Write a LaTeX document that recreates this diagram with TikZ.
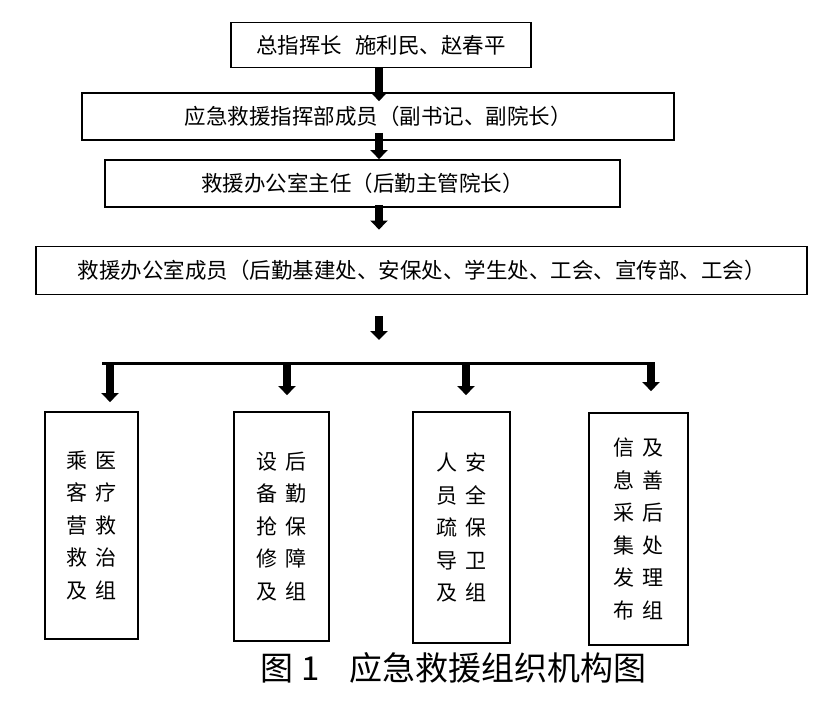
\documentclass[tikz,border=0pt]{standalone}
\usepackage{fontspec}
\setmainfont{Noto Sans CJK SC}
\usepackage{tikz}
\usetikzlibrary{arrows.meta,positioning}

\newcommand{\duo}[2]{#1\hspace{8pt}#2}

\begin{document}
\begin{tikzpicture}[x=1pt,y=-1pt,
    post/.style={draw=black, line width=1.8pt, inner sep=0pt,
      font=\fontsize{21.5}{26}\selectfont},
    team/.style={draw=black, line width=1.8pt, inner sep=0pt, align=center,
      font=\fontsize{21}{32.5}\selectfont},
    arr/.style={-{Triangle[width=17pt,length=9pt]}, line width=7.5pt}
  ]
    \useasboundingbox (0,0) rectangle (824,704);

    \node[post, minimum width=300pt, minimum height=45pt] (chief) at (381,45)
      {总指挥长\hspace{0.6em}施利民、赵春平};
    \node[post, minimum width=592pt, minimum height=47pt] (command) at (378,116.5)
      {应急救援指挥部成员（副书记、副院长）};
    \node[post, minimum width=515pt, minimum height=47pt] (office) at (362.5,183.5)
      {救援办公室主任（后勤主管院长）};
    \node[post, minimum width=771pt, minimum height=48pt] (staff) at (421.5,270.5)
      {救援办公室成员（后勤基建处、安保处、学生处、工会、宣传部、工会）\hspace{10pt}};

    \node[team, minimum width=93pt, minimum height=227pt] (grpA) at (91.5,525.5)
      {\duo{乘}{医}\\\duo{客}{疗}\\\duo{营}{救}\\\duo{救}{治}\\\duo{及}{组}};
    \node[team, minimum width=95pt, minimum height=229pt] (grpB) at (281.5,526.5)
      {\duo{设}{后}\\\duo{备}{勤}\\\duo{抢}{保}\\\duo{修}{障}\\\duo{及}{组}};
    \node[team, minimum width=97pt, minimum height=231pt] (grpC) at (461.5,527.5)
      {\duo{人}{安}\\\duo{员}{全}\\\duo{疏}{保}\\\duo{导}{卫}\\\duo{及}{组}};
    \node[team, minimum width=99pt, minimum height=232pt] (grpD) at (638.5,529)
      {\duo{信}{及}\\\duo{息}{善}\\\duo{采}{后}\\\duo{集}{处}\\\duo{发}{理}\\\duo{布}{组}};

    \node[font=\fontsize{33}{36}\selectfont] (caption) at (453.5,668)
      {图 1\hspace{0.9em}应急救援组织机构图};

    \coordinate (spine) at (379,0);
    \draw[arr, shorten >=-9pt] (spine |- chief.south) -- (spine |- command.north);
    \draw[arr, shorten <=-8pt] (spine |- command.south) -- (spine |- office.north);
    \draw[arr, shorten <=-3pt, shorten >=16pt] (spine |- office.south) -- (spine |- staff.north);

    \coordinate (split) at (379,363);
    \draw[arr, shorten <=21pt, shorten >=23pt] (spine |- staff.south) -- (split);

    \foreach \g/\x/\gap in {A/110/9, B/287/16, C/466/16, D/651/21} {
      \coordinate (drop\g) at (\x,363);
      \draw[arr, shorten >=\gap pt] (drop\g) -- (drop\g |- grp\g.north);
    }
    \draw[line width=3pt] ([xshift=-8pt]dropA) -- ([xshift=4pt]dropD);
\end{tikzpicture}
\end{document}
